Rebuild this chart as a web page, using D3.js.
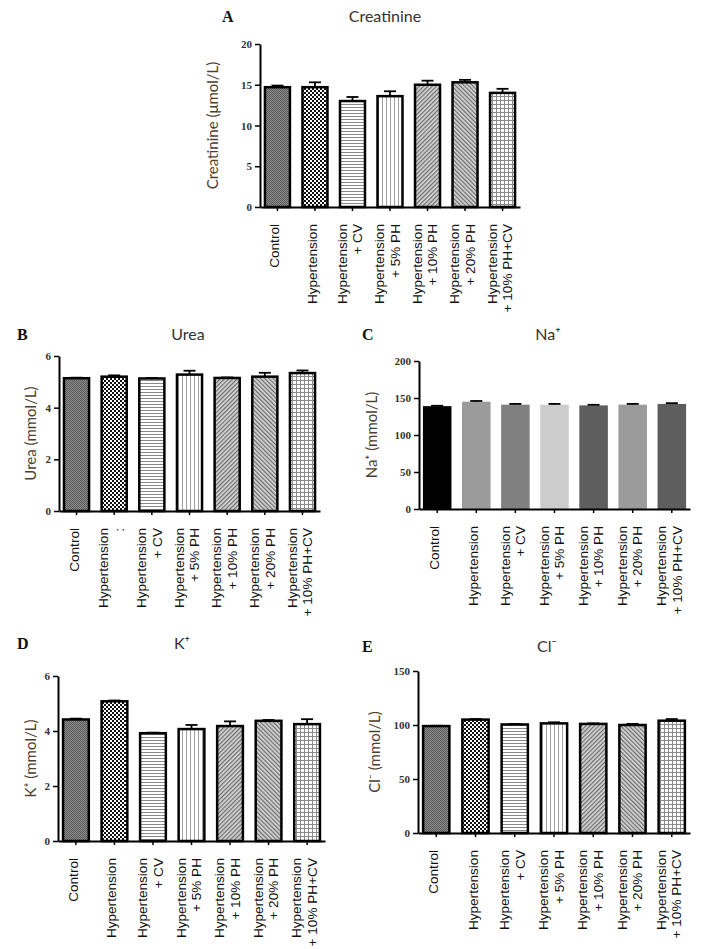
<!DOCTYPE html>
<html>
<head>
<meta charset="utf-8">
<script src="https://cdn.jsdelivr.net/npm/d3@7/dist/d3.min.js"></script>
<style>
body { margin: 0; background: #fff; }
text { font-family: "Liberation Sans", Arial, sans-serif; }
.tick text { font-family: "Liberation Serif", serif; font-weight: bold; font-size: 11px; fill: #333; }
.ylab, .ttl { font-family: Lato, "Open Sans", sans-serif; }
.letter { font-family: "Liberation Serif", serif; font-weight: bold; }
</style>
</head>
<body>
<svg id="chart" width="702" height="949"></svg>
<script>
// groups (same order in every panel)
var groups = ["Control", "Hypertension", "Hypertension + CV", "Hypertension + 5% PH",
              "Hypertension + 10% PH", "Hypertension + 20% PH", "Hypertension + 10% PH+CV"];
var groupLines = [["Control"], ["Hypertension"], ["Hypertension", "+ CV"], ["Hypertension", "+ 5% PH"],
                  ["Hypertension", "+ 10% PH"], ["Hypertension", "+ 20% PH"], ["Hypertension", "+ 10% PH+CV"]];
var ureaLines = [["Control"], ["Hypertension", ":"], ["Hypertension", "+ CV"], ["Hypertension", "+ 5% PH"],
                 ["Hypertension", "+ 10% PH"], ["Hypertension", "+ 20% PH"], ["Hypertension", "+ 10% PH+CV"]];

var creatinine    = [14.7, 14.7, 13.0, 13.6, 15.0, 15.3, 14.0];
var creatinineErr = [0.2, 0.6, 0.5, 0.6, 0.5, 0.3, 0.5];
var urea          = [5.14, 5.2, 5.13, 5.28, 5.15, 5.2, 5.34];
var ureaErr       = [0.02, 0.05, 0.02, 0.15, 0.02, 0.15, 0.1];
var sodium        = [139, 145, 141, 141, 140, 141, 142];
var sodiumErr     = [0.5, 1, 1, 1, 0.8, 1, 1];
var potassium     = [4.42, 5.08, 3.92, 4.07, 4.18, 4.37, 4.25];
var potassiumErr  = [0.03, 0.03, 0.02, 0.15, 0.17, 0.03, 0.18];
var chloride      = [99, 105, 100.5, 101.5, 101, 100, 104];
var chlorideErr   = [0.3, 0.5, 0.5, 1, 0.5, 1, 1.5];

var ticksA = [0, 5, 10, 15, 20];
var ticksB = [0, 2, 4, 6];
var ticksC = [0, 50, 100, 150, 200];
var ticksD = [0, 2, 4, 6];
var ticksE = [0, 50, 100, 150];

var patternFills = ["url(#pControl)", "url(#pHyp)", "url(#pCV)", "url(#p5)", "url(#p10)", "url(#p20)", "url(#p10cv)"];
var grayFills = ["#000000", "#9b9b9b", "#808080", "#cdcdcd", "#5e5e5e", "#9b9b9b", "#5e5e5e"];

var panels = [
    {letter: "A", title: "Creatinine", ylab: "Creatinine (\u03bcmol/L)", vals: creatinine, errs: creatinineErr,
     ticks: ticksA, lines: groupLines, fills: patternFills, stroke: true,
     x0: 260, x1: 520, yTop: 44, yZero: 207, letterX: 222, titleX: 385, titleY: 22, ylabX: 213},
    {letter: "B", title: "Urea", ylab: "Urea (mmol/L)", vals: urea, errs: ureaErr,
     ticks: ticksB, lines: ureaLines, fills: patternFills, stroke: true,
     x0: 59, x1: 320, yTop: 356, yZero: 511, letterX: 17, titleX: 188, titleY: 340, ylabX: 31},
    {letter: "C", title: "Na\u207a", ylab: "Na\u207a (mmol/L)", vals: sodium, errs: sodiumErr,
     ticks: ticksC, lines: groupLines, fills: grayFills, stroke: false,
     x0: 419, x1: 690, yTop: 361, yZero: 509, letterX: 362, titleX: 548, titleY: 340, ylabX: 372},
    {letter: "D", title: "K\u207a", ylab: "K\u207a (mmol/L)", vals: potassium, errs: potassiumErr,
     ticks: ticksD, lines: groupLines, fills: patternFills, stroke: true,
     x0: 58, x1: 325, yTop: 676, yZero: 841, letterX: 17, titleX: 182, titleY: 649, ylabX: 31},
    {letter: "E", title: "Cl\u207b", ylab: "Cl\u207b (mmol/L)", vals: chloride, errs: chlorideErr,
     ticks: ticksE, lines: groupLines, fills: patternFills, stroke: true,
     x0: 418, x1: 690, yTop: 671, yZero: 833, letterX: 362, titleX: 547, titleY: 652, ylabX: 375}
];

var svg = d3.select("#chart");
var defs = svg.append("defs");

// fill patterns
var p = defs.append("pattern").attr("id", "pControl").attr("width", 2).attr("height", 2).attr("patternUnits", "userSpaceOnUse");
p.append("rect").attr("width", 2).attr("height", 2).attr("fill", "#8c8c8c");
p.append("rect").attr("width", 1).attr("height", 1).attr("fill", "#5a5a5a");
p.append("rect").attr("x", 1).attr("y", 1).attr("width", 1).attr("height", 1).attr("fill", "#5a5a5a");

p = defs.append("pattern").attr("id", "pHyp").attr("width", 4).attr("height", 4).attr("patternUnits", "userSpaceOnUse");
p.append("rect").attr("width", 4).attr("height", 4).attr("fill", "#fff");
p.append("rect").attr("width", 2).attr("height", 2).attr("fill", "#111");
p.append("rect").attr("x", 2).attr("y", 2).attr("width", 2).attr("height", 2).attr("fill", "#111");

p = defs.append("pattern").attr("id", "pCV").attr("width", 4).attr("height", 3).attr("patternUnits", "userSpaceOnUse");
p.append("rect").attr("width", 4).attr("height", 3).attr("fill", "#fff");
p.append("rect").attr("y", 2).attr("width", 4).attr("height", 1).attr("fill", "#8a8a8a");

p = defs.append("pattern").attr("id", "p5").attr("width", 4).attr("height", 4).attr("patternUnits", "userSpaceOnUse");
p.append("rect").attr("width", 4).attr("height", 4).attr("fill", "#fff");
p.append("rect").attr("x", 2).attr("width", 1).attr("height", 4).attr("fill", "#a0a0a0");

[["p10", 45], ["p20", -45]].forEach(function(d) {
    var q = defs.append("pattern").attr("id", d[0]).attr("width", 3).attr("height", 3)
        .attr("patternUnits", "userSpaceOnUse").attr("patternTransform", "rotate(" + d[1] + ")");
    q.append("rect").attr("width", 3).attr("height", 3).attr("fill", "#d6d6d6");
    q.append("rect").attr("width", 1.2).attr("height", 3).attr("fill", "#6a6a6a");
});

p = defs.append("pattern").attr("id", "p10cv").attr("width", 4).attr("height", 4).attr("patternUnits", "userSpaceOnUse");
p.append("rect").attr("width", 4).attr("height", 4).attr("fill", "#fff");
p.append("rect").attr("width", 4).attr("height", 1).attr("fill", "#8a8a8a");
p.append("rect").attr("width", 1).attr("height", 4).attr("fill", "#8a8a8a");

panels.forEach(drawPanel);

function drawPanel(c) {
    var g = svg.append("g");
    var x = d3.scaleBand().domain(groups).range([c.x0, c.x1]).paddingInner(0.27).paddingOuter(0.1);
    var y = d3.scaleLinear().domain([0, d3.max(c.ticks)]).range([c.yZero, c.yTop]);

    // bars
    g.selectAll("rect.bar").data(c.vals).enter().append("rect")
        .attr("class", "bar")
        .attr("x", function(d, i) { return x(groups[i]) + (c.stroke ? 1.2 : 0); })
        .attr("width", x.bandwidth() - (c.stroke ? 2.4 : 0))
        .attr("y", function(d) { return y(d); })
        .attr("height", function(d) { return y(0) - y(d); })
        .attr("fill", function(d, i) { return c.fills[i]; })
        .attr("stroke", c.stroke ? "#000" : "none")
        .attr("stroke-width", 2.5);

    // error bars (upper half only)
    var cx = function(i) { return x(groups[i]) + x.bandwidth() / 2; };
    var eb = g.selectAll("g.err").data(c.vals).enter().append("g").attr("class", "err")
        .attr("stroke", "#000").attr("stroke-width", 1.8);
    eb.append("line")
        .attr("x1", function(d, i) { return cx(i); }).attr("x2", function(d, i) { return cx(i); })
        .attr("y1", function(d) { return y(d); })
        .attr("y2", function(d, i) { return y(d + c.errs[i]); });
    eb.append("line")
        .attr("x1", function(d, i) { return cx(i) - 6; }).attr("x2", function(d, i) { return cx(i) + 6; })
        .attr("y1", function(d, i) { return y(d + c.errs[i]); })
        .attr("y2", function(d, i) { return y(d + c.errs[i]); });

    // axes
    var ya = g.append("g").attr("transform", "translate(" + c.x0 + ",0)")
        .call(d3.axisLeft(y).tickValues(c.ticks).tickFormat(d3.format("d"))
            .tickSize(5).tickSizeOuter(0).tickPadding(3));
    var xa = g.append("g").attr("transform", "translate(0," + c.yZero + ")")
        .call(d3.axisBottom(x).tickSize(4).tickSizeOuter(0).tickFormat(""));
    [ya, xa].forEach(function(a) {
        a.select(".domain").attr("stroke", "#000").attr("stroke-width", 2);
        a.selectAll(".tick line").attr("stroke", "#000").attr("stroke-width", 1.5);
    });

    // category labels, rotated
    var lh = 15.5;
    g.selectAll("text.cat").data(c.lines).enter().append("text")
        .attr("class", "cat")
        .attr("transform", function(d, i) {
            return "translate(" + (cx(i) - 3) + "," + (c.yZero + 17) + ") rotate(-90)";
        })
        .attr("text-anchor", "end")
        .attr("font-size", 13.6)
        .attr("fill", "#111")
        .each(function(d) {
            var t = d3.select(this);
            d.forEach(function(s, k) {
                t.append("tspan").attr("x", 0)
                    .attr("dy", k === 0 ? (-(d.length - 1) / 2 * lh + 5) : lh)
                    .text(s);
            });
        });

    // titles
    g.append("text").attr("class", "letter").attr("x", c.letterX).attr("y", c.titleY)
        .attr("font-size", 16).attr("fill", "#111").text(c.letter);
    g.append("text").attr("class", "ttl").attr("x", c.titleX).attr("y", c.titleY)
        .attr("text-anchor", "middle").attr("font-size", 16).attr("fill", "#333").text(c.title);

    // y label
    var ym = (c.yTop + c.yZero) / 2;
    g.append("text").attr("class", "ylab")
        .attr("transform", "translate(" + (c.ylabX + 5) + "," + ym + ") rotate(-90)")
        .attr("text-anchor", "middle").attr("font-size", 15).attr("fill", "#4e3f2e")
        .text(c.ylab);
}
</script>
</body>
</html>
